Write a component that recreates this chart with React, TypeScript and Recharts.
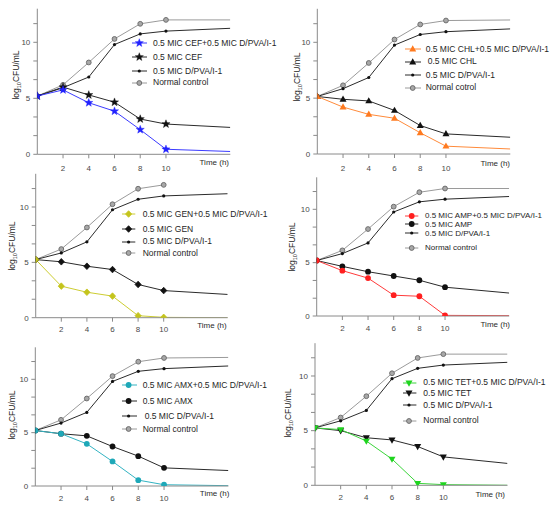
import React from 'react';
import { LineChart, Line, XAxis, YAxis } from 'recharts';

// ---------- data ----------
const times = [0, 2, 4, 6, 8, 10, 15];

const cefComb = [5.2, 5.75, 4.6, 3.85, 2.2, 0.45, 0.25];
const cef = [5.2, 6.0, 5.3, 4.65, 3.15, 2.7, 2.4];
const dpva1 = [5.2, 5.95, 6.9, 9.8, 10.75, 11.0, 11.25];
const normal1 = [5.2, 6.2, 8.2, 10.3, 11.65, 12.0, 12.0];

const chlComb = [5.15, 4.2, 3.55, 3.2, 1.9, 0.7, 0.45];
const chl = [5.15, 4.9, 4.75, 3.9, 2.55, 1.8, 1.5];
const dpva2 = [5.15, 5.85, 6.85, 9.75, 10.7, 10.95, 11.2];
const normal2 = [5.15, 6.15, 8.15, 10.25, 11.6, 11.95, 12.0];

const genComb = [5.25, 2.85, 2.3, 1.95, 0.18, 0.03, 0];
const gen = [5.25, 5.05, 4.65, 4.35, 3.0, 2.45, 2.1];
const dpva3 = [5.25, 5.85, 6.85, 9.75, 10.7, 11.0, 11.2];
const normal3 = [5.25, 6.2, 8.15, 10.25, 11.65, 12.0, null];

const ampComb = [5.2, 4.25, 3.55, 1.95, 1.85, 0.06, 0.03];
const amp = [5.2, 4.65, 4.15, 3.75, 3.35, 2.7, 2.15];
const dpva4 = [5.2, 5.85, 6.85, 9.75, 10.7, 10.95, 11.2];
const normal4 = [5.2, 6.15, 8.15, 10.25, 11.6, 11.95, 11.95];

const amxComb = [5.2, 4.9, 3.95, 2.3, 0.55, 0.12, 0.03];
const amx = [5.2, 4.9, 4.7, 3.7, 2.8, 1.7, 1.45];
const dpva5 = [5.2, 5.9, 6.9, 9.8, 10.75, 11.0, 11.25];
const normal5 = [5.2, 6.2, 8.2, 10.3, 11.65, 12.0, 12.05];

const tetComb = [5.25, 5.1, 4.05, 2.4, 0.18, 0.06, 0];
const tet = [5.25, 5.0, 4.35, 4.15, 3.55, 2.6, 2.0];
const dpva6 = [5.25, 5.9, 6.85, 9.75, 10.7, 11.0, 11.25];
const normal6 = [5.25, 6.2, 8.15, 10.25, 11.65, 12.0, 12.0];

const xTicks = [2, 4, 6, 8, 10];
const yTicks = [0, 1.667, 3.333, 5, 6.667, 8.333, 10, 11.667];
const yLabels = [0, 5, 10];

// ---------- styling ----------
const FONT = '"Liberation Sans", Arial, sans-serif';
const BLACK = '#2a2a2a';
const GRAY = '#9a9a9a';
const AXIS = '#8a8a8a';

type Shape = 'star' | 'tri' | 'invtri' | 'circle' | 'diamond' | 'dot' | 'ring';

function drawMarker(shape: Shape, cx: number, cy: number, color: string) {
  switch (shape) {
    case 'star': {
      const R = 4.3, r = 1.8;
      let d = '';
      for (let i = 0; i < 10; i++) {
        const rad = i % 2 === 0 ? R : r;
        const a = -Math.PI / 2 + (i * Math.PI) / 5;
        d += (i === 0 ? 'M' : 'L') + (cx + rad * Math.cos(a)).toFixed(2) + ',' + (cy + rad * Math.sin(a)).toFixed(2);
      }
      return <path d={d + 'Z'} fill={color} stroke={color} strokeWidth={0.4} />;
    }
    case 'tri':
      return <path d={`M${cx},${cy - 3.8}L${cx + 3.5},${cy + 2.4}L${cx - 3.5},${cy + 2.4}Z`} fill={color} />;
    case 'invtri':
      return <path d={`M${cx},${cy + 3.8}L${cx + 3.5},${cy - 2.4}L${cx - 3.5},${cy - 2.4}Z`} fill={color} />;
    case 'circle':
      return <circle cx={cx} cy={cy} r={2.9} fill={color} />;
    case 'diamond':
      return <path d={`M${cx},${cy - 3.3}L${cx + 3.1},${cy}L${cx},${cy + 3.3}L${cx - 3.1},${cy}Z`} fill={color} stroke={color} strokeWidth={0.8} strokeLinejoin="round" />;
    case 'dot':
      return <circle cx={cx} cy={cy} r={1.6} fill={color} />;
    case 'ring':
    default:
      return <circle cx={cx} cy={cy} r={2.4} fill="#a8a8a8" stroke="#6e6e6e" strokeWidth={1} />;
  }
}

const makeDot = (shape: Shape, color: string) => (props: any) => {
  const { cx, cy, payload, index } = props;
  if (cx == null || cy == null || payload == null || payload.t === 15) {
    return <g key={`d${index}`} />;
  }
  return <g key={`d${index}`}>{drawMarker(shape, cx, cy, color)}</g>;
};

interface SeriesDef { key: string; name: string; values: (number | null)[]; color: string; line: string; shape: Shape; }
interface PanelDef {
  left: number; top: number; x0: number; x15: number; y13: number; y0: number;
  tickMargin: number;
  legendFont: number;
  series: SeriesDef[];
  legend: { lx1: number; lx2: number; mx: number; tx: number[]; rows: number[] };
  ylab: { x: number; y: number };
  time: { right: number; y: number };
}

const mk = (name: string, values: (number | null)[], color: string, line: string, shape: Shape, key: string): SeriesDef => ({ key, name, values, color, line, shape });

const panels: PanelDef[] = [
  {
    left: 0, top: 0, x0: 37.3, x15: 230.3, y13: 8.7, y0: 154.3, tickMargin: 7, legendFont: 8.5,
    series: [
      mk('0.5 MIC CEF+0.5 MIC D/PVA/I-1', cefComb, '#2222ff', '#3a3aff', 'star', 'a'),
      mk('0.5 MIC CEF', cef, '#111', BLACK, 'star', 'b'),
      mk('0.5 MIC D/PVA/I-1', dpva1, '#111', BLACK, 'dot', 'c'),
      mk('Normal control', normal1, GRAY, GRAY, 'ring', 'd'),
    ],
    legend: { lx1: 131.7, lx2: 146.7, mx: 139, tx: [153, 153, 153, 153], rows: [43.3, 57.3, 71, 82.7] },
    ylab: { x: 16, y: 75 },
    time: { right: 229, y: 163.3 },
  },
  {
    left: 275, top: 0, x0: 317.3, x15: 510.3, y13: 8.8, y0: 154, tickMargin: 7, legendFont: 8.5,
    series: [
      mk('0.5 MIC CHL+0.5 MIC D/PVA/I-1', chlComb, '#ff7a1f', '#ff8a3a', 'tri', 'a'),
      mk('0.5 MIC CHL', chl, '#111', BLACK, 'tri', 'b'),
      mk('0.5 MIC D/PVA/I-1', dpva2, '#111', BLACK, 'dot', 'c'),
      mk('Normal cotrol', normal2, GRAY, GRAY, 'ring', 'd'),
    ],
    legend: { lx1: 405, lx2: 421, mx: 412.7, tx: [425.7, 427.7, 425.7, 425.7], rows: [49, 61.7, 75, 87.7] },
    ylab: { x: 296.7, y: 77 },
    time: { right: 510, y: 164 },
  },
  {
    left: 0, top: 170, x0: 35.7, x15: 227.7, y13: 173.8, y0: 317.7, tickMargin: 5, legendFont: 8.5,
    series: [
      mk('0.5 MIC GEN+0.5 MIC D/PVA/I-1', genComb, '#c4c41c', '#cccc30', 'diamond', 'a'),
      mk('0.5 MIC GEN', gen, '#111', BLACK, 'diamond', 'b'),
      mk('0.5 MIC D/PVA/I-1', dpva3, '#111', BLACK, 'dot', 'c'),
      mk('Normal control', normal3, GRAY, GRAY, 'ring', 'd'),
    ],
    legend: { lx1: 121.7, lx2: 135, mx: 128.3, tx: [142.7, 142.7, 142.7, 142.7], rows: [214.3, 229, 241.7, 253.3] },
    ylab: { x: 11.7, y: 246 },
    time: { right: 226.7, y: 325.7 },
  },
  {
    left: 275, top: 170, x0: 316.7, x15: 509.2, y13: 177.3, y0: 316, tickMargin: 5, legendFont: 8,
    series: [
      mk('0.5 MIC AMP+0.5 MIC D/PVA/I-1', ampComb, '#ff1f1f', '#ff3a3a', 'circle', 'a'),
      mk('0.5 MIC AMP', amp, '#111', BLACK, 'circle', 'b'),
      mk('0.5 MIC D/PVA/I-1', dpva4, '#111', BLACK, 'dot', 'c'),
      mk('Normal control', normal4, GRAY, GRAY, 'ring', 'd'),
    ],
    legend: { lx1: 405, lx2: 418.3, mx: 411.7, tx: [425, 425, 425, 425], rows: [215.5, 224.2, 233.3, 247.7] },
    ylab: { x: 291.7, y: 246.7 },
    time: { right: 510, y: 324.7 },
  },
  {
    left: 0, top: 340, x0: 35.3, x15: 228.4, y13: 347.3, y0: 486, tickMargin: 5, legendFont: 8.5,
    series: [
      mk('0.5 MIC AMX+0.5 MIC D/PVA/I-1', amxComb, '#1ea8b8', '#33b3c2', 'circle', 'a'),
      mk('0.5 MIC AMX', amx, '#111', BLACK, 'circle', 'b'),
      mk('0.5 MIC D/PVA/I-1', dpva5, '#111', BLACK, 'dot', 'c'),
      mk('Normal control', normal5, GRAY, GRAY, 'ring', 'd'),
    ],
    legend: { lx1: 121.7, lx2: 136.7, mx: 128.3, tx: [142.7, 142.7, 144.7, 142.7], rows: [385, 401, 416, 429.3] },
    ylab: { x: 11.7, y: 415 },
    time: { right: 229.3, y: 494.3 },
  },
  {
    left: 275, top: 340, x0: 315, x15: 507.5, y13: 343.2, y0: 485.3, tickMargin: 5, legendFont: 8.5,
    series: [
      mk('0.5 MIC TET+0.5 MIC D/PVA/I-1', tetComb, '#1fd41f', '#3ad43a', 'invtri', 'a'),
      mk('0.5 MIC TET', tet, '#111', BLACK, 'invtri', 'b'),
      mk('0.5 MIC D/PVA/I-1', dpva6, '#111', BLACK, 'dot', 'c'),
      mk('Normal control', normal6, GRAY, GRAY, 'ring', 'd'),
    ],
    legend: { lx1: 403.3, lx2: 416.7, mx: 409.3, tx: [423.3, 423.3, 423.3, 423.3], rows: [382.7, 393.3, 405, 420.7] },
    ylab: { x: 288.3, y: 412.5 },
    time: { right: 505, y: 495 },
  },
];

const PANEL_W = 275;
const XAXIS_H = 22;

function Panel({ p }: { p: PanelDef }) {
  const rows = times.map((t, i) => {
    const r: any = { t };
    p.series.forEach((s) => { r[s.key] = s.values[i]; });
    return r;
  });
  const height = p.y0 - p.top + XAXIS_H;
  const drawOrder = [...p.series].reverse();
  return (
    <>
      <div style={{ position: 'absolute', left: p.left, top: p.top, width: PANEL_W, height }}>
        <LineChart
          width={PANEL_W}
          height={height}
          data={rows}
          margin={{ top: p.y13 - p.top, right: p.left + PANEL_W - p.x15, bottom: 0, left: 0 }}
          style={{ overflow: 'visible' }}
        >
          <XAxis
            dataKey="t"
            type="number"
            domain={[0, 15]}
            ticks={xTicks}
            interval={0}
            height={XAXIS_H}
            stroke={AXIS}
            tickSize={4}
            tickMargin={p.tickMargin}
            tick={{ fontSize: 8, fill: '#4a4a4a', fontFamily: FONT }}
            allowDataOverflow
          />
          <YAxis
            type="number"
            domain={[0, 13]}
            ticks={yTicks}
            interval={0}
            width={p.x0 - p.left}
            stroke={AXIS}
            tickSize={4}
            tickMargin={3}
            tick={{ fontSize: 8, fill: '#4a4a4a', fontFamily: FONT }}
            tickFormatter={(v: number) => (yLabels.includes(v) ? String(v) : '')}
            allowDataOverflow
          />
          {drawOrder.map((s) => (
            <Line
              key={s.key}
              type="linear"
              dataKey={s.key}
              name={s.name}
              stroke={s.line}
              strokeWidth={1}
              dot={makeDot(s.shape, s.color)}
              activeDot={false}
              isAnimationActive={false}
              connectNulls={false}
            />
          ))}
        </LineChart>
      </div>
      {/* legend */}
      {p.series.map((s, i) => (
        <div key={'lg' + s.key} style={{ position: 'absolute', left: 0, top: 0, width: 0, height: 0 }}>
          <svg style={{ position: 'absolute', left: p.legend.lx1 - 6, top: p.legend.rows[i] - 6, overflow: 'visible' }} width={p.legend.lx2 - p.legend.lx1 + 12} height={12}>
            <line x1={6} y1={6} x2={6 + p.legend.lx2 - p.legend.lx1} y2={6} stroke={s.line} strokeWidth={1} />
            {drawMarker(s.shape, 6 + p.legend.mx - p.legend.lx1, 6, s.color)}
          </svg>
          <div style={{ position: 'absolute', left: p.legend.tx[i], top: p.legend.rows[i] - 3.5, fontFamily: FONT, fontSize: p.legendFont, lineHeight: '7px', color: '#1e1e1e', whiteSpace: 'nowrap' }}>
            {s.name}
          </div>
        </div>
      ))}
      {/* y label */}
      <div style={{ position: 'absolute', left: p.ylab.x, top: p.ylab.y, transform: 'translate(-50%, -50%) rotate(-90deg)', fontFamily: FONT, fontSize: 8.5, color: '#1e1e1e', whiteSpace: 'nowrap', lineHeight: '10px' }}>
        log<sub style={{ fontSize: 5.5, verticalAlign: 'baseline', position: 'relative', top: 1.5 }}>10</sub>CFU/mL
      </div>
      {/* x label */}
      <div style={{ position: 'absolute', left: p.time.right - 40, width: 40, textAlign: 'right', top: p.time.y - 5, fontFamily: FONT, fontSize: 8, lineHeight: '10px', color: '#2a2a2a', whiteSpace: 'nowrap' }}>
        Time (h)
      </div>
    </>
  );
}

export default function App() {
  return (
    <div style={{ position: 'absolute', left: 0, top: 0, width: 550, height: 509, background: '#fff', overflow: 'hidden' }}>
      {panels.map((p, i) => (
        <Panel key={i} p={p} />
      ))}
    </div>
  );
}
